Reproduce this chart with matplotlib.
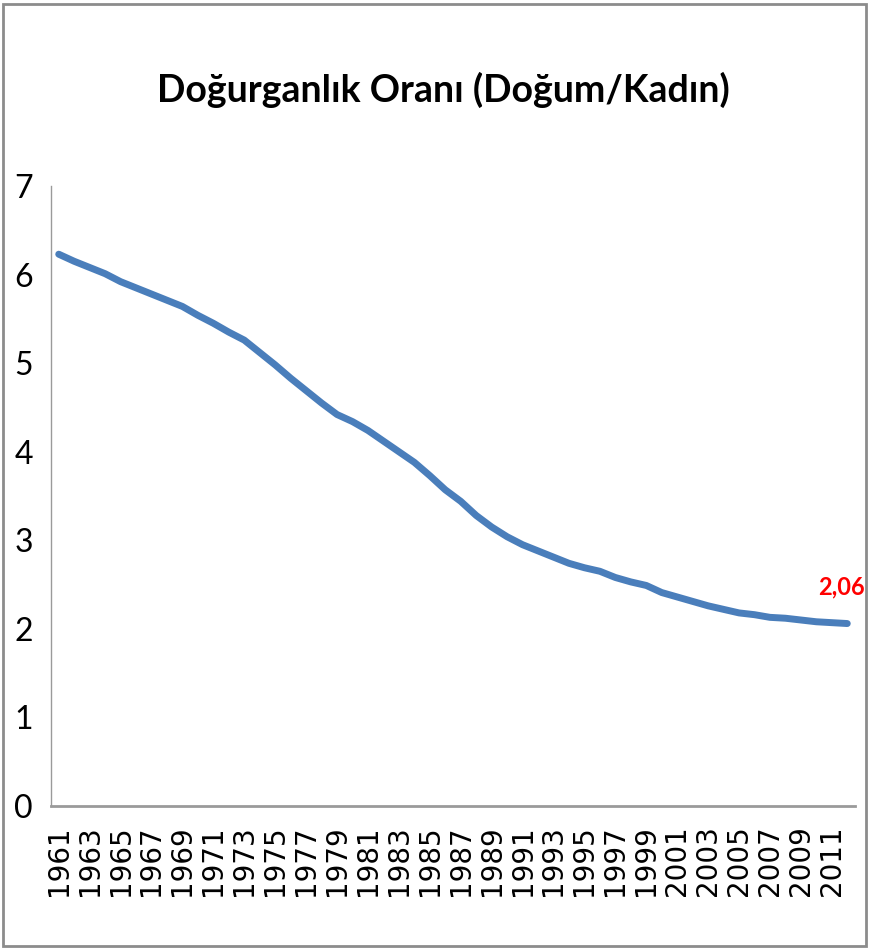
import matplotlib
matplotlib.use("Agg")
import matplotlib.pyplot as plt
from matplotlib.patches import Rectangle

years = list(range(1961, 2013))
fertility = [6.23, 6.15, 6.08, 6.01, 5.92, 5.85, 5.78, 5.71, 5.64, 5.54,
             5.45, 5.35, 5.26, 5.12, 4.98, 4.83, 4.69, 4.55, 4.42, 4.34,
             4.24, 4.12, 4.00, 3.88, 3.73, 3.57, 3.44, 3.28, 3.15, 3.04,
             2.95, 2.88, 2.81, 2.74, 2.69, 2.65, 2.58, 2.53, 2.49, 2.41,
             2.36, 2.31, 2.26, 2.22, 2.18, 2.16, 2.13, 2.12, 2.10, 2.08,
             2.07, 2.06]
tick_years = [str(y) for y in range(1961, 2012, 2)]
y_ticks = [0, 1, 2, 3, 4, 5, 6, 7]
title = "Doğurganlık Oranı (Doğum/Kadın)"
end_label = "2,06"

fig = plt.figure(figsize=(8.69, 9.5), dpi=100)
fig.patches.append(Rectangle((0.004, 0.004), 0.992, 0.992, transform=fig.transFigure,
                             fill=False, edgecolor="#8c8c8c", linewidth=2))

ax = fig.add_axes([51/869, 1-806/950, (855-51)/869, (806-186)/950])
x = list(range(len(years)))
ax.plot(x, fertility, color="#4a7ebb", linewidth=5, solid_capstyle="round")
ax.set_xlim(-0.5, len(years) - 0.5)
ax.set_ylim(0, 7)
ax.set_yticks(y_ticks)
ax.set_yticklabels([str(v) for v in y_ticks], fontfamily="Lato", fontsize=23)
ax.set_xticks(x[::2])
ax.set_xticklabels(tick_years, rotation=90, fontfamily="DejaVu Sans", fontsize=20)
ax.tick_params(axis="x", length=0, pad=14)
ax.tick_params(axis="y", length=0, pad=13)
for s in ("top", "right"):
    ax.spines[s].set_visible(False)
ax.spines["left"].set_color("#9a9a9a")
ax.spines["left"].set_linewidth(1)
ax.spines["bottom"].set_color("#9a9a9a")
ax.spines["bottom"].set_linewidth(2)

ax.annotate(end_label, (x[-1], fertility[-1]), xytext=(-4, 18), textcoords="offset points",
            ha="center", va="bottom", color="red", fontsize=17, fontweight="bold",
            fontfamily="Lato")

fig.text(443/869, 1-90/950, title, ha="center", va="center", fontsize=27,
         fontweight="bold", fontfamily="Lato")

fig.savefig("out.png", dpi=100)
